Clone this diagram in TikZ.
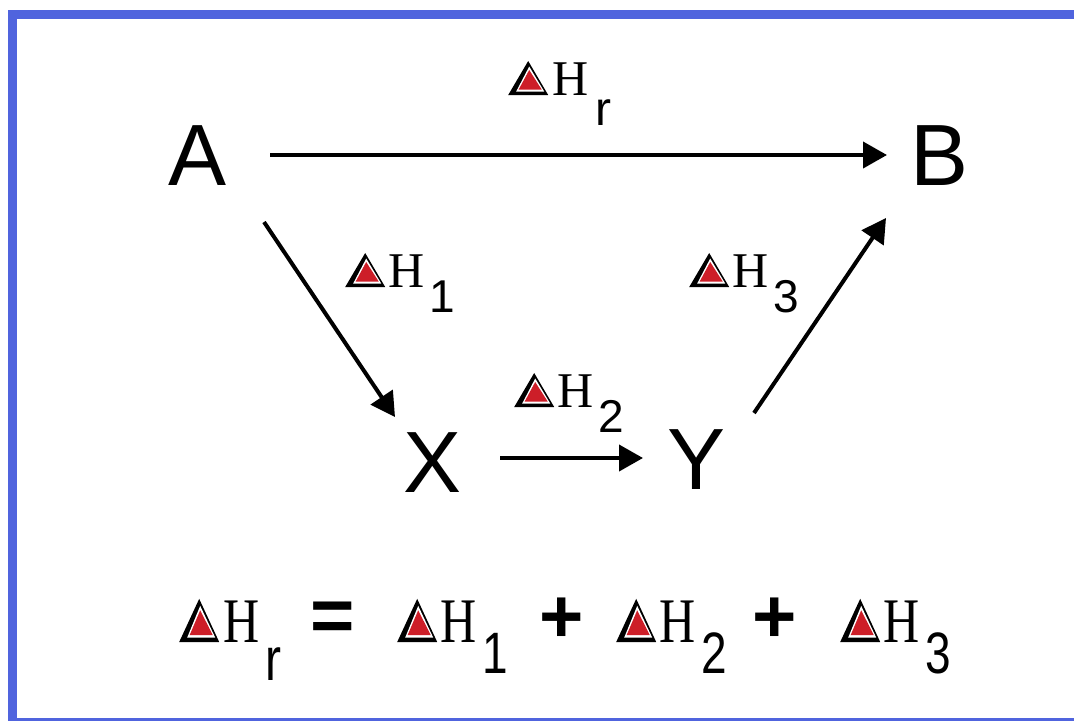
\documentclass[tikz,border=0pt]{standalone}
\usepackage{fontspec}
\setmainfont{Liberation Serif}
\setsansfont{Liberation Sans}
\usetikzlibrary{arrows.meta,calc}
\definecolor{frameblue}{RGB}{80,100,222}
\definecolor{deltared}{RGB}{205,30,40}
\newcommand\Dl{\tikz[baseline=0pt]{\fill[black] (0,0)--(0.8em,0)--(0.4em,0.68em)--cycle;\fill[white](0.16em,0.07em)--(0.72em,0.07em)--(0.42em,0.57em)--cycle;\fill[deltared](0.21em,0.11em)--(0.67em,0.11em)--(0.42em,0.50em)--cycle;}}
\newcommand\Sb[1]{\raisebox{-25pt}{\sffamily\fontsize{46}{46}\selectfont #1}}
\newcommand\Sr{\raisebox{-30pt}{\sffamily\fontsize{48}{48}\selectfont r}}
\begin{document}
\begin{tikzpicture}[x=1pt,y=1pt,
  big/.style={font=\sffamily\fontsize{87}{87}\selectfont, inner sep=0pt, text height=62pt, text depth=0pt},
  lab/.style={font=\fontsize{50}{50}\selectfont, inner sep=0pt, anchor=base west},
  eq/.style={font=\fontsize{50}{50}\selectfont, inner sep=0pt, anchor=base west},
  op/.style={font=\sffamily\bfseries\fontsize{76}{76}\selectfont, inner sep=0pt},
  arr/.style={line width=4pt, -{Triangle[length=24pt,width=26pt]}}]
\path[use as bounding box] (0,0) rectangle (1074,-721);
\fill[white] (0,0) rectangle (1074,-721);
\fill[frameblue] (8,-10) rectangle (1074,-19);
\fill[frameblue] (8,-10) rectangle (17,-721);
\fill[frameblue] (8,-718) rectangle (1074,-721);
% main nodes
\node[big] (A) at (198,-154) {A};
\node[big] (B) at (940,-154) {B};
\node[big] (X) at (433,-461) {X};
\node[big] (Y) at (697,-458) {Y};
% arrows
\draw[arr] ($(A.center)+(72,-1)$) -- ($(B.center)+(-53,-1)$);
\draw[arr] ($(A.center)+(66,-68)$) -- ($(X.center)+(-38,44)$);
\draw[arr] ($(X.center)+(67,3)$) -- ($(Y.center)+(-54,0)$);
\draw[arr] ($(Y.center)+(57,45)$) -- ($(B.center)+(-54,-64)$);
% labels
\node[lab] (lr) at (508,-95) {\Dl\kern4pt H\kern7pt\Sr};
\node[lab] (l1) at (345,-287) {\Dl\kern3pt H\kern5pt\Sb{1}};
\node[lab] (l2) at (514,-407) {\Dl\kern3pt H\kern5pt\Sb{2}};
\node[lab] (l3) at (689,-287) {\Dl\kern3pt H\kern5pt\Sb{3}};
% equation
\node[eq] (er) at (179,-642) {\scalebox{1}[1.27]{\Dl\kern4pt H\kern6pt\Sr}};
\node[op] (eqs) at (333,-622) {=};
\node[eq] (e1) at (397,-642) {\scalebox{1}[1.27]{\Dl\kern3pt H\kern6pt\Sb{1}}};
\node[op] (p1) at (562,-620) {+};
\node[eq] (e2) at (616,-642) {\scalebox{1}[1.27]{\Dl\kern3pt H\kern6pt\Sb{2}}};
\node[op] (p2) at (775,-620) {+};
\node[eq] (e3) at (840,-642) {\scalebox{1}[1.27]{\Dl\kern3pt H\kern6pt\Sb{3}}};
\end{tikzpicture}
\end{document}
